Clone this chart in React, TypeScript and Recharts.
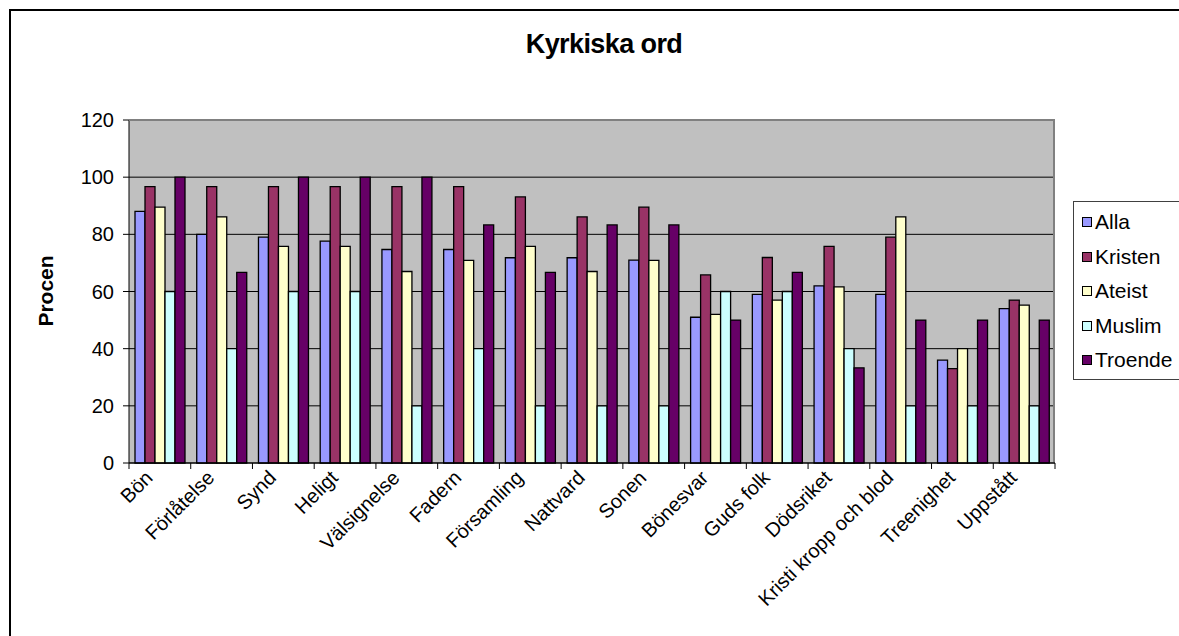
import { Bar, BarChart, CartesianGrid, XAxis, YAxis } from "recharts";

const categories = [
  "Bön",
  "Förlåtelse",
  "Synd",
  "Heligt",
  "Välsignelse",
  "Fadern",
  "Församling",
  "Nattvard",
  "Sonen",
  "Bönesvar",
  "Guds folk",
  "Dödsriket",
  "Kristi kropp och blod",
  "Treenighet",
  "Uppstått",
];

const alla = [88, 80, 79, 77.6, 74.7, 74.7, 71.8, 71.8, 71, 51, 59, 62, 59, 36, 54];
const kristen = [96.7, 96.7, 96.7, 96.7, 96.7, 96.7, 93.1, 86.1, 89.5, 65.8, 71.9, 75.8, 79, 33, 57];
const ateist = [89.5, 86.1, 75.8, 75.8, 67, 70.9, 75.8, 67, 70.9, 52, 57, 61.6, 86.1, 40, 55.2];
const muslim = [60, 40, 60, 60, 20, 40, 20, 20, 20, 60, 60, 40, 20, 20, 20];
const troende = [100, 66.7, 100, 100, 100, 83.3, 66.7, 83.3, 83.3, 50, 66.7, 33.3, 50, 50, 50];

const yTicks = [0, 20, 40, 60, 80, 100, 120];

const series = [
  { key: "Alla", values: alla, color: "#9999FF" },
  { key: "Kristen", values: kristen, color: "#993366" },
  { key: "Ateist", values: ateist, color: "#FFFFCC" },
  { key: "Muslim", values: muslim, color: "#CCFFFF" },
  { key: "Troende", values: troende, color: "#660066" },
];

const data = categories.map((name, i) => {
  const row: any = { name };
  series.forEach((s) => (row[s.key] = s.values[i]));
  return row;
});

const FONT = '"Liberation Sans", Arial, sans-serif';
const PLOT_LEFT = 129;
const PLOT_RIGHT = 1055;
const PLOT_TOP = 120;
const PLOT_BOTTOM = 463;
const STEP = (PLOT_RIGHT - PLOT_LEFT) / categories.length;

const CategoryTick = ({ x, y, payload, index }: any) => {
  const left = x - STEP / 2;
  const ax = x - 6;
  const ay = y + 16;
  return (
    <g>
      <line x1={left} y1={y} x2={left} y2={y + 6} stroke="#000" />
      {index === categories.length - 1 && (
        <line x1={x + STEP / 2} y1={y} x2={x + STEP / 2} y2={y + 6} stroke="#000" />
      )}
      <text
        x={ax}
        y={ay}
        transform={`rotate(-45, ${ax}, ${ay})`}
        textAnchor="end"
        fontSize={20}
        fontFamily={FONT}
        fill="#000"
      >
        {payload.value}
      </text>
    </g>
  );
};

export default function App() {
  return (
    <div
      style={{
        position: "absolute",
        left: 0,
        top: 0,
        width: 1179,
        height: 636,
        overflow: "hidden",
        background: "#fff",
        fontFamily: FONT,
      }}
    >
      <div
        style={{
          position: "absolute",
          left: 9,
          top: 9,
          width: 1300,
          height: 800,
          borderLeft: "2px solid #000",
          borderTop: "2px solid #000",
        }}
      />
      <div
        style={{
          position: "absolute",
          left: 404,
          top: 29,
          width: 400,
          textAlign: "center",
          fontWeight: "bold",
          fontSize: 27,
          letterSpacing: -0.6,
        }}
      >
        Kyrkiska ord
      </div>
      <div
        style={{
          position: "absolute",
          left: 46,
          top: 291,
          transform: "translate(-50%, -50%) rotate(-90deg)",
          fontWeight: "bold",
          fontSize: 21,
          whiteSpace: "nowrap",
        }}
      >
        Procen
      </div>
      <BarChart
        width={1179}
        height={636}
        data={data}
        margin={{ top: PLOT_TOP, right: 1179 - PLOT_RIGHT, left: 0, bottom: 0 }}
        barSize={10}
        barGap={0}
        style={{ position: "absolute", left: 0, top: 0 }}
      >
        <CartesianGrid vertical={false} stroke="#000" fill="#C0C0C0" fillOpacity={1} />
        <XAxis
          dataKey="name"
          height={636 - PLOT_BOTTOM}
          interval={0}
          tickSize={0}
          tickMargin={0}
          tickLine={false}
          axisLine={{ stroke: "#000" }}
          tick={<CategoryTick />}
        />
        <YAxis
          width={PLOT_LEFT}
          domain={[0, 120]}
          ticks={yTicks}
          tickSize={6}
          tickMargin={9}
          axisLine={{ stroke: "#000" }}
          tickLine={{ stroke: "#000" }}
          tick={{ fontSize: 20, fontFamily: FONT, fill: "#000" }}
        />
        {series.map((s) => (
          <Bar
            key={s.key}
            dataKey={s.key}
            fill={s.color}
            stroke="#000"
            strokeWidth={1.3}
            isAnimationActive={false}
          />
        ))}
      </BarChart>
      <div
        style={{
          position: "absolute",
          left: PLOT_LEFT,
          top: PLOT_TOP - 1,
          width: PLOT_RIGHT - PLOT_LEFT,
          height: PLOT_BOTTOM - PLOT_TOP,
          borderTop: "2px solid #808080",
          borderRight: "2px solid #808080",
          boxSizing: "border-box",
          pointerEvents: "none",
        }}
      />
      <div
        style={{
          position: "absolute",
          left: 1073,
          top: 201,
          width: 140,
          height: 179,
          border: "1px solid #404040",
          background: "#fff",
          boxSizing: "border-box",
        }}
      >
        {series.map((s, i) => (
          <div
            key={s.key}
            style={{
              position: "absolute",
              left: 8,
              top: 8 + i * 34.6,
              height: 24,
              display: "flex",
              alignItems: "center",
              fontSize: 21,
              whiteSpace: "nowrap",
            }}
          >
            <span
              style={{
                display: "inline-block",
                width: 8,
                height: 8,
                border: "1px solid #000",
                background: s.color,
                marginRight: 3,
              }}
            />
            {s.key}
          </div>
        ))}
      </div>
    </div>
  );
}
